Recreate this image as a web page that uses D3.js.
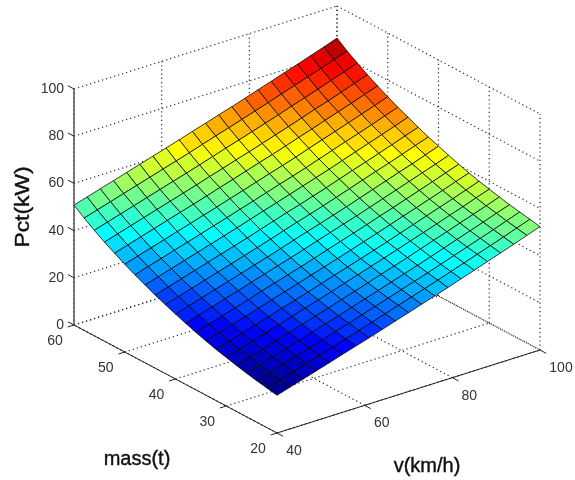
<!DOCTYPE html>
<html>
<head>
<meta charset="utf-8">
<title>Pct surface</title>
<script src="https://cdn.jsdelivr.net/npm/d3@7"></script>
<style>
	body { margin: 0; background: #fff; }
	svg { display: block; filter: blur(0.35px); }
	text { font-family: "Liberation Sans", Arial, sans-serif; }
</style>
</head>
<body>
<div id="visDiv"></div>
<script>
var vValues = [40,43,46,49,52,55,58,61,64,67,70,73,76,79,82,85,88,91,94,97,100];
var massValues = [20,22,24,26,28,30,32,34,36,38,40,42,44,46,48,50,52,54,56,58,60];
var vTicks = [40,60,80,100];
var massTicks = [20,30,40,50,60];
var pctTicks = [0,20,40,60,80,100];

// one row per mass value, one column per v value
var pctValues = [
	[16.0,17.7,19.4,21.1,22.8,24.6,26.3,28.0,29.8,31.6,33.4,35.2,37.0,38.8,40.7,42.6,44.5,46.4,48.3,50.3,52.3],
	[16.8,18.5,20.2,21.9,23.6,25.4,27.1,28.8,30.6,32.4,34.2,36.0,37.8,39.6,41.5,43.4,45.3,47.2,49.1,51.1,53.1],
	[17.6,19.3,21.0,22.7,24.4,26.2,27.9,29.6,31.4,33.2,35.0,36.8,38.6,40.4,42.3,44.2,46.1,48.0,49.9,51.9,53.9],
	[18.5,20.2,21.9,23.6,25.3,27.1,28.8,30.5,32.3,34.1,35.9,37.7,39.5,41.3,43.2,45.1,47.0,48.9,50.8,52.8,54.7],
	[19.5,21.2,22.9,24.6,26.3,28.1,29.8,31.5,33.3,35.1,36.9,38.7,40.5,42.3,44.2,46.1,48.0,49.9,51.8,53.7,55.7],
	[20.6,22.3,24.0,25.7,27.4,29.2,30.9,32.6,34.4,36.2,38.0,39.8,41.6,43.4,45.3,47.1,49.0,50.9,52.8,54.8,56.7],
	[21.7,23.4,25.1,26.8,28.5,30.3,32.0,33.7,35.5,37.3,39.0,40.8,42.6,44.4,46.3,48.2,50.1,52.0,53.9,55.8,57.8],
	[23.0,24.7,26.4,28.1,29.8,31.6,33.3,35.0,36.8,38.5,40.3,42.1,43.9,45.7,47.6,49.5,51.3,53.2,55.1,57.1,59.0],
	[24.4,26.1,27.8,29.5,31.2,33.0,34.7,36.4,38.1,39.9,41.7,43.5,45.3,47.1,49.0,50.8,52.7,54.6,56.5,58.5,60.4],
	[25.9,27.6,29.3,31.0,32.7,34.5,36.2,37.9,39.6,41.4,43.2,45.0,46.8,48.5,50.4,52.3,54.2,56.1,58.0,59.9,61.9],
	[27.5,29.2,30.9,32.6,34.3,36.0,37.7,39.4,41.2,43.0,44.8,46.5,48.3,50.1,52.0,53.9,55.8,57.7,59.5,61.5,63.5],
	[29.2,30.9,32.6,34.3,36.0,37.7,39.4,41.1,42.9,44.7,46.5,48.2,50.0,51.8,53.7,55.6,57.5,59.3,61.2,63.2,65.1],
	[31.0,32.7,34.4,36.1,37.8,39.5,41.2,42.9,44.7,46.5,48.3,50.0,51.8,53.6,55.5,57.4,59.2,61.1,63.0,65.0,66.9],
	[33.0,34.7,36.4,38.1,39.8,41.5,43.2,44.9,46.7,48.5,50.2,52.0,53.8,55.6,57.4,59.3,61.2,63.1,65.0,66.9,68.9],
	[35.0,36.7,38.4,40.1,41.8,43.5,45.2,46.9,48.7,50.4,52.2,54.0,55.7,57.5,59.4,61.3,63.2,65.0,66.9,68.9,70.8],
	[37.2,38.9,40.6,42.3,44.0,45.7,47.4,49.1,50.9,52.6,54.4,56.2,57.9,59.7,61.6,63.5,65.3,67.2,69.1,71.0,73.0],
	[39.6,41.3,43.0,44.7,46.4,48.1,49.8,51.5,53.3,55.0,56.8,58.6,60.3,62.1,64.0,65.8,67.7,69.6,71.4,73.4,75.3],
	[42.0,43.7,45.4,47.1,48.8,50.5,52.2,53.9,55.7,57.4,59.2,60.9,62.7,64.5,66.3,68.2,70.1,71.9,73.8,75.8,77.7],
	[44.7,46.4,48.1,49.8,51.5,53.2,54.9,56.6,58.3,60.1,61.9,63.6,65.4,67.2,69.0,70.9,72.7,74.6,76.5,78.4,80.4],
	[47.6,49.3,51.0,52.7,54.4,56.1,57.8,59.5,61.2,63.0,64.8,66.5,68.3,70.1,71.9,73.8,75.6,77.5,79.3,81.3,83.2],
	[50.8,52.5,54.2,55.9,57.6,59.3,61.0,62.7,64.4,66.2,67.9,69.7,71.4,73.2,75.1,76.9,78.8,80.6,82.5,84.4,86.4]
];

var w = 575, h = 480;

// oblique projection: the floor is spanned from the near corner (v=40, mass=20)
var nearCorner = {x: 277, y: 433};
var vDir = {x: 263, y: -83};
var massDir = {x: -203, y: -108};

var vScale = d3.scaleLinear().domain([40,100]).range([0,1]);
var massScale = d3.scaleLinear().domain([20,60]).range([0,1]);
var pctScale = d3.scaleLinear().domain([0,100]).range([0,236]);

function project(v, m, z) {
	var a = vScale(v), b = massScale(m);
	return [
		nearCorner.x + a*vDir.x + b*massDir.x,
		nearCorner.y + a*vDir.y + b*massDir.y - pctScale(z)
	];
}

// matlab jet(64), stepped
var jetScale = d3.scaleQuantize().domain([d3.min(pctValues, function(r) { return d3.min(r); }),
	d3.max(pctValues, function(r) { return d3.max(r); })]).range(d3.range(64));

function jet(z) {
	var t = (jetScale(z)+1)/64;
	function ramp(c) { return Math.max(0, Math.min(1, 1.5-Math.abs(4*t-c))); }
	return d3.rgb(255*ramp(3), 255*ramp(2), 255*ramp(1)).formatHex();
}

var svg = d3.select('#visDiv')
	.append('svg')
		.attr('width', w)
		.attr('height', h);

var line = d3.line();

function addLine(group, a, b) {
	return group.append('path')
		.attr('d', line([a, b]));
}

//grid on floor and back walls
var grid = svg.append('g')
	.attr('fill', 'none')
	.attr('stroke', '#2a2a2a')
	.attr('stroke-width', 1.2)
	.attr('stroke-dasharray', '1.2,3');

vTicks.forEach(function(v) {
	addLine(grid, project(v,20,0), project(v,60,0));
	addLine(grid, project(v,60,0), project(v,60,100));
});
massTicks.forEach(function(m) {
	addLine(grid, project(40,m,0), project(100,m,0));
	addLine(grid, project(100,m,0), project(100,m,100));
});
pctTicks.forEach(function(z) {
	addLine(grid, project(40,60,z), project(100,60,z));
	addLine(grid, project(100,60,z), project(100,20,z));
});

//surface, far cells first
var cells = [];
for (var j = massValues.length-2; j >= 0; j--) {
	for (var i = vValues.length-2; i >= 0; i--) {
		cells.push({i: i, j: j});
	}
}

svg.append('g')
	.selectAll('path')
	.data(cells)
	.enter()
	.append('path')
		.attr('d', function(d) {
			var i = d.i, j = d.j;
			return line([
				project(vValues[i], massValues[j], pctValues[j][i]),
				project(vValues[i+1], massValues[j], pctValues[j][i+1]),
				project(vValues[i+1], massValues[j+1], pctValues[j+1][i+1]),
				project(vValues[i], massValues[j+1], pctValues[j+1][i])
			]) + 'Z';
		})
		.style('fill', function(d) { return jet(pctValues[d.j][d.i]); })
		.style('stroke', '#000')
		.style('stroke-width', 0.9)
		.style('stroke-opacity', 0.85)
		.style('stroke-linejoin', 'round');

//axes
var axes = svg.append('g')
	.attr('fill', 'none')
	.attr('stroke', '#222')
	.attr('stroke-width', 1);

addLine(axes, project(40,60,0), project(40,60,100))
	.attr('stroke', '#555')
	.attr('stroke-width', 1.5);
addLine(axes, project(40,60,0), project(40,20,0));
addLine(axes, project(40,20,0), project(100,20,0));

var tickLen = 0.03;
pctTicks.forEach(function(z) {
	addLine(axes, project(40,60,z), project(40,60+40*tickLen,z));
});
massTicks.forEach(function(m) {
	addLine(axes, project(40,m,0), project(40-60*tickLen*0.8,m,0));
});
vTicks.forEach(function(v) {
	addLine(axes, project(v,20,0), project(v,20-40*tickLen,0));
});

//tick labels
var labels = svg.append('g')
	.style('font-size', '14px')
	.style('fill', '#333')
	.style('text-anchor', 'middle');

pctTicks.forEach(function(z) {
	var p = project(40,60,z);
	labels.append('text')
		.attr('x', p[0]-10)
		.attr('y', p[1]+4)
		.style('text-anchor', 'end')
		.text(z);
});
massTicks.forEach(function(m) {
	var p = project(40,m,0);
	labels.append('text')
		.attr('x', p[0]-19)
		.attr('y', p[1]+20)
		.text(m);
});
vTicks.forEach(function(v) {
	var p = project(v,20,0);
	labels.append('text')
		.attr('x', p[0]+(v === 100 ? 21 : 17))
		.attr('y', p[1]+22)
		.text(v);
});

//axis titles
var titles = svg.append('g')
	.style('font-size', '20px')
	.style('fill', '#111')
	.style('stroke', '#111')
	.style('stroke-width', 0.4)
	.style('text-anchor', 'middle');

titles.append('text')
	.attr('x', 137)
	.attr('y', 465)
	.text('mass(t)');

titles.append('text')
	.attr('x', 427)
	.attr('y', 472)
	.text('v(km/h)');

titles.append('text')
	.attr('transform', 'translate(29,207)rotate(-90)')
	.attr('textLength', 81)
	.attr('lengthAdjust', 'spacingAndGlyphs')
	.text('Pct(kW)');
</script>
</body>
</html>
